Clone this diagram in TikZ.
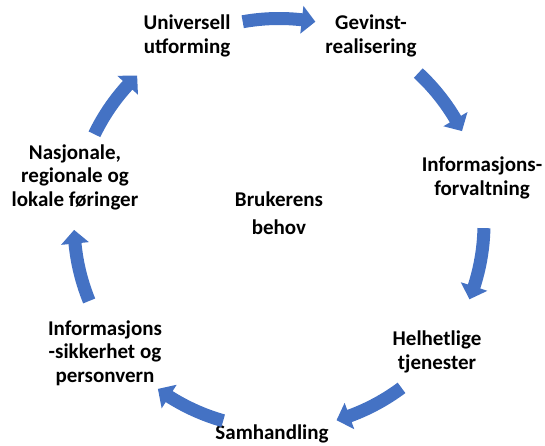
\documentclass[tikz,border=0pt]{standalone}
\usepackage{fontspec}
\setmainfont{Carlito}
\definecolor{cycleblue}{HTML}{4472C4}
\begin{document}
\begin{tikzpicture}[x=1pt,y=1pt,
  label/.style={font=\bfseries\fontsize{21}{23.5}\selectfont, align=center, inner sep=0pt},
  cyclearrow/.style={fill=cycleblue, draw=none}]
\useasboundingbox (0,0) rectangle (545,446);
\coordinate (c) at (279,222.5);
% labels placed on the ring
\node[label] (uu) at (187,410) {Universell\\utforming};
\node[label] (gr) at (371,410) {Gevinst-\\realisering};
\node[label] (if) at (482,268) {Informasjons-\\forvaltning};
\node[label] (ht) at (437,94) {Helhetlige\\tjenester};
\node[label] (sa) at (272,12) {Samhandling};
\node[label] (is) at (105,93) {Informasjons\\-sikkerhet og\\personvern};
\node[label] (nf) at (75,269) {Nasjonale,\\regionale og\\lokale føringer};
\node[label] (bb) at (279,233) {Brukerens\\[4pt]behov};
% curved block arrows, running clockwise round the ring
\foreach \ac in {90,37,-11.5,-63.5,-116,-168,144}{
  \pgfmathsetmacro{\aa}{\ac+10.2}
  \pgfmathsetmacro{\ab}{\ac-10.2}
  \pgfmathsetmacro{\ah}{\ab+3.8}
  \fill[cyclearrow] ([shift={(\aa:211.5)}]c)
      arc[start angle=\aa, end angle=\ah, radius=211.5]
      -- ([shift={(\ah:219)}]c)
      -- ([shift={(\ab:205)}]c)
      -- ([shift={(\ah:191)}]c)
      -- ([shift={(\ah:198.5)}]c)
      arc[start angle=\ah, end angle=\aa, radius=198.5]
      -- cycle;
}
\end{tikzpicture}
\end{document}
